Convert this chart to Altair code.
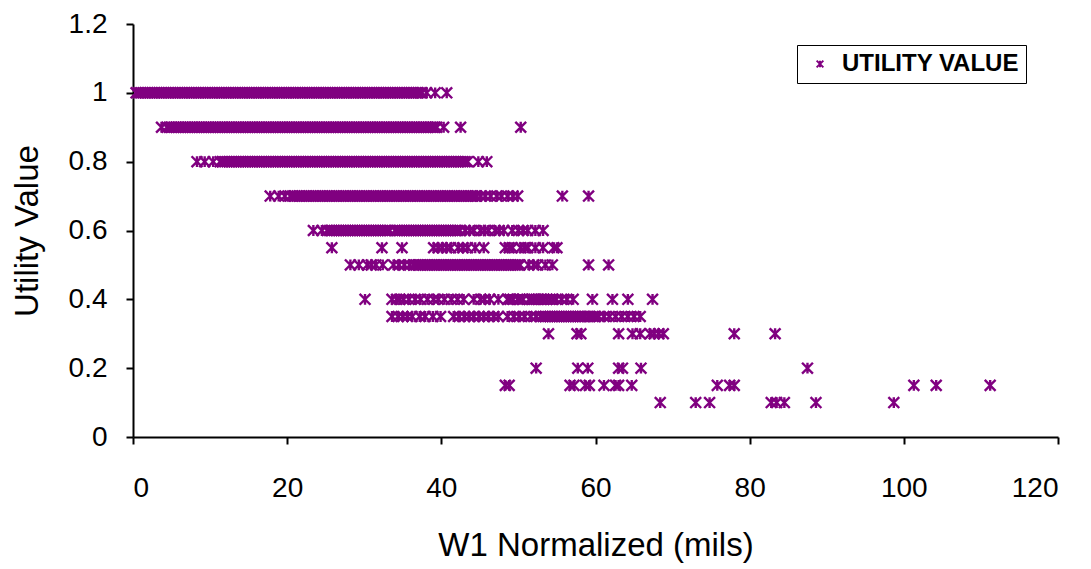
import altair as alt
import pandas as pd

PURPLE = "#800080"
FONT = "Liberation Sans"
SERIES = "UTILITY VALUE"

# Excel-style asterisk marker: an X with a vertical bar through it
ASTERISK = "M-1,-1L1,1M-1,1L1,-1M0,-1L0,1"

# W1 normalized (mils) of every record, grouped by its utility value
u_100 = [0.4, 0.7, 1.0, 1.3, 1.6, 1.9, 2.2, 2.5, 2.8, 3.1, 3.4, 3.7, 4.0, 4.3, 4.6, 4.9,
         5.2, 5.5, 5.8, 6.1, 6.4, 6.7, 7.0, 7.3, 7.6, 7.9, 8.2, 8.5, 8.8, 9.1, 9.4, 9.7,
         10.0, 10.3, 10.6, 10.9, 11.2, 11.5, 11.8, 12.1, 12.4, 12.7, 13.0, 13.3, 13.6,
         13.9, 14.2, 14.5, 14.8, 15.1, 15.4, 15.7, 16.0, 16.3, 16.6, 16.9, 17.2, 17.5,
         17.8, 18.1, 18.4, 18.7, 19.0, 19.3, 19.6, 19.9, 20.2, 20.5, 20.8, 21.1, 21.4,
         21.7, 22.0, 22.3, 22.6, 22.9, 23.2, 23.5, 23.8, 24.1, 24.4, 24.7, 25.0, 25.3,
         25.6, 25.9, 26.2, 26.5, 26.8, 27.1, 27.4, 27.7, 28.0, 28.3, 28.6, 28.9, 29.2,
         29.5, 29.8, 30.1, 30.4, 30.7, 31.0, 31.3, 31.6, 31.9, 32.2, 32.5, 32.8, 33.1,
         33.4, 33.7, 34.0, 34.3, 34.6, 34.9, 35.2, 35.5, 35.8, 36.1, 36.4, 36.7, 37.0,
         37.3, 37.5, 38.1, 39.2, 40.7]
u_090 = [3.7, 4.4, 4.7, 5.0, 5.3, 5.6, 5.9, 6.2, 6.5, 6.8, 7.1, 7.4, 7.7, 8.0, 8.3, 8.6,
         8.9, 9.2, 9.5, 9.8, 10.1, 10.4, 10.7, 11.0, 11.3, 11.6, 11.9, 12.2, 12.5, 12.8,
         13.1, 13.4, 13.7, 14.0, 14.3, 14.6, 14.9, 15.2, 15.5, 15.8, 16.1, 16.4, 16.7,
         17.0, 17.3, 17.6, 17.9, 18.2, 18.5, 18.8, 19.1, 19.4, 19.7, 20.0, 20.3, 20.6,
         20.9, 21.2, 21.5, 21.8, 22.1, 22.4, 22.7, 23.0, 23.3, 23.6, 23.9, 24.2, 24.5,
         24.8, 25.1, 25.4, 25.7, 26.0, 26.3, 26.6, 26.9, 27.2, 27.5, 27.8, 28.1, 28.4,
         28.7, 29.0, 29.3, 29.6, 29.9, 30.2, 30.5, 30.8, 31.1, 31.4, 31.7, 32.0, 32.3,
         32.6, 32.9, 33.2, 33.5, 33.8, 34.1, 34.4, 34.7, 35.0, 35.3, 35.6, 35.9, 36.2,
         36.5, 36.8, 37.1, 37.4, 37.7, 38.0, 38.3, 38.6, 38.9, 39.2, 39.4, 40.3, 42.5,
         50.3]
u_080 = [8.3, 9.3, 10.4, 11.3, 11.6, 11.9, 12.2, 12.5, 12.8, 13.1, 13.4, 13.7, 14.0,
         14.3, 14.6, 14.9, 15.2, 15.5, 15.8, 16.1, 16.4, 16.7, 17.0, 17.3, 17.6, 17.9,
         18.2, 18.5, 18.8, 19.1, 19.4, 19.7, 20.0, 20.3, 20.6, 20.9, 21.2, 21.5, 21.8,
         22.1, 22.4, 22.7, 23.0, 23.3, 23.6, 23.9, 24.2, 24.5, 24.8, 25.1, 25.4, 25.7,
         26.0, 26.3, 26.6, 26.9, 27.2, 27.5, 27.8, 28.1, 28.4, 28.7, 29.0, 29.3, 29.6,
         29.9, 30.2, 30.5, 30.8, 31.1, 31.4, 31.7, 32.0, 32.3, 32.6, 32.9, 33.2, 33.5,
         33.8, 34.1, 34.4, 34.7, 35.0, 35.3, 35.6, 35.9, 36.2, 36.5, 36.8, 37.1, 37.4,
         37.7, 38.0, 38.3, 38.6, 38.9, 39.2, 39.5, 39.8, 40.1, 40.4, 40.7, 41.0, 41.3,
         41.6, 41.9, 42.2, 42.5, 42.8, 43.1, 43.4, 44.8, 45.9]
u_070 = [17.8, 18.9, 19.7, 20.4, 20.7, 21.0, 21.3, 21.6, 21.9, 22.2, 22.5, 22.8, 23.1,
         23.4, 23.7, 24.0, 24.3, 24.6, 24.9, 25.2, 25.5, 25.8, 26.1, 26.4, 26.7, 27.0,
         27.3, 27.6, 27.9, 28.2, 28.5, 28.8, 29.1, 29.4, 29.7, 30.0, 30.3, 30.6, 30.9,
         31.2, 31.5, 31.8, 32.1, 32.4, 32.7, 33.0, 33.3, 33.6, 33.9, 34.2, 34.5, 34.8,
         35.1, 35.4, 35.7, 36.0, 36.3, 36.6, 36.9, 37.2, 37.5, 37.8, 38.1, 38.4, 38.7,
         39.0, 39.3, 39.6, 39.9, 40.2, 40.5, 40.8, 41.1, 41.4, 41.7, 42.0, 42.3, 42.6,
         42.9, 43.2, 43.5, 43.8, 44.1, 44.4, 44.6, 45.1, 45.7, 46.4, 47.2, 47.8, 48.6,
         49.3, 49.9, 55.7, 59.1]
u_060 = [23.4, 24.5, 25.2, 25.5, 25.8, 26.1, 26.4, 26.7, 27.0, 27.3, 27.6, 27.9, 28.2,
         28.5, 28.8, 29.1, 29.4, 29.7, 30.0, 30.3, 30.6, 30.9, 31.2, 31.5, 31.8, 32.1,
         32.4, 32.7, 33.0, 33.3, 34.0, 34.3, 34.6, 34.9, 35.2, 35.5, 35.8, 36.1, 36.4,
         36.7, 37.0, 37.3, 37.6, 37.9, 38.2, 38.5, 38.8, 39.1, 39.4, 39.7, 40.0, 40.3,
         40.6, 40.9, 41.2, 41.5, 41.8, 42.1, 42.4, 43.1, 43.7, 44.2, 45.1, 45.6, 46.1,
         47.0, 47.5, 48.1, 49.2, 50.0, 50.6, 51.2, 52.2, 53.2]
u_055 = [25.8, 32.3, 34.9, 39.0, 39.6, 40.1, 40.7, 41.2, 42.2, 42.8, 43.4, 44.4, 45.5,
         48.3, 48.8, 49.2, 50.3, 50.8, 51.2, 52.2, 53.2, 54.6, 55.0]
u_050 = [28.2, 29.3, 30.4, 30.9, 31.5, 32.4, 33.8, 34.5, 35.2, 35.9, 36.4, 36.7, 37.0,
         37.3, 37.6, 37.9, 38.2, 38.5, 38.8, 39.1, 39.4, 39.7, 40.0, 40.3, 40.6, 40.9,
         41.2, 41.5, 41.8, 42.1, 42.4, 42.7, 43.0, 43.3, 43.6, 43.9, 44.2, 44.5, 44.8,
         45.1, 45.4, 45.7, 46.0, 46.3, 46.6, 46.9, 47.2, 47.5, 47.8, 48.1, 48.4, 48.7,
         49.0, 49.3, 49.6, 49.9, 50.2, 51.3, 52.0, 52.5, 53.5, 54.4, 59.1, 61.7]
u_040 = [30.1, 33.6, 34.2, 34.6, 35.1, 35.8, 36.6, 37.3, 38.2, 39.0, 39.6, 40.4, 41.3,
         42.1, 42.9, 44.2, 45.1, 45.6, 46.3, 47.4, 48.6, 48.9, 49.3, 49.9, 50.2, 50.6,
         51.4, 51.7, 52.0, 52.3, 52.6, 53.0, 53.3, 53.7, 54.1, 54.5, 54.9, 55.6, 56.3,
         57.1, 59.6, 62.2, 64.2, 67.4]
u_035 = [33.6, 34.4, 35.0, 35.6, 36.2, 37.2, 37.9, 38.9, 39.9, 41.6, 42.3, 43.0, 43.6,
         44.2, 44.9, 45.5, 46.1, 46.8, 47.4, 48.6, 49.4, 50.1, 50.8, 51.6, 52.3, 52.9,
         53.2, 53.5, 53.8, 54.1, 54.4, 54.7, 55.0, 55.3, 55.6, 55.9, 56.2, 56.5, 56.8,
         57.1, 57.4, 57.7, 58.0, 58.3, 58.6, 59.0, 59.3, 59.7, 60.0, 60.4, 61.1, 61.8,
         62.6, 63.4, 64.2, 65.0, 65.8]
u_030 = [53.9, 57.6, 58.1, 63.0, 64.8, 65.8, 67.1, 67.6, 68.2, 68.8, 78.0, 83.3]
u_020 = [52.3, 57.7, 59.0, 63.0, 63.5, 65.9, 87.5]
u_015 = [48.3, 48.8, 56.7, 57.2, 58.7, 59.2, 61.1, 62.6, 63.0, 64.7, 75.8, 77.4, 78.0,
         101.3, 104.2, 111.2]
u_010 = [68.4, 73.0, 74.8, 82.8, 83.5, 84.5, 88.6, 98.7]

levels = [
    (1.0, u_100), (0.9, u_090), (0.8, u_080), (0.7, u_070), (0.6, u_060),
    (0.55, u_055), (0.5, u_050), (0.4, u_040), (0.35, u_035), (0.3, u_030),
    (0.2, u_020), (0.15, u_015), (0.1, u_010),
]

x_ticks = [0, 20, 40, 60, 80, 100, 120]
y_ticks = [0, 0.2, 0.4, 0.6, 0.8, 1.0, 1.2]

df = pd.DataFrame(
    [{"w1": x, "utility": u, "series": SERIES} for u, xs in levels for x in xs]
)

W, H = 925, 413

chart = (
    alt.Chart(df)
    .mark_point(shape=ASTERISK, size=118, strokeWidth=2.4, filled=False, opacity=1)
    .encode(
        x=alt.X(
            "w1:Q",
            scale=alt.Scale(domain=[0, 120], nice=False, zero=True),
            axis=alt.Axis(
                values=x_ticks,
                title="W1 Normalized (mils)",
                titleX=W / 2,
                titleY=118,
                titleBaseline="alphabetic",
                labelPadding=30,
            ),
        ),
        y=alt.Y(
            "utility:Q",
            scale=alt.Scale(domain=[0, 1.2], nice=False, zero=True),
            axis=alt.Axis(
                values=y_ticks,
                format="~g",
                title="Utility Value",
                titleX=-106,
                titleY=H / 2,
                titleAngle=270,
                titleAlign="center",
                titleBaseline="middle",
                labelPadding=19,
            ),
        ),
        color=alt.Color(
            "series:N",
            scale=alt.Scale(domain=[SERIES], range=[PURPLE]),
            legend=alt.Legend(
                title=None,
                orient="none",
                legendX=664,
                legendY=21,
                strokeColor="black",
                fillColor="white",
                padding=7,
                labelFont=FONT,
                labelFontSize=24,
                labelFontWeight="bold",
                labelColor="black",
                labelLimit=400,
                labelOffset=10,
                symbolType=ASTERISK,
                symbolSize=45,
                symbolStrokeWidth=2,
                symbolOffset=4,
            ),
        ),
    )
    .properties(
        width=W,
        height=H,
        autosize=alt.AutoSizeParams(type="none"),
        padding={"left": 133, "top": 24, "right": 33, "bottom": 132},
        background="white",
    )
    .configure_view(stroke=None)
    .configure_axis(
        grid=False,
        domainColor="black",
        domainWidth=2,
        tickColor="black",
        tickWidth=2,
        tickSize=7,
        labelFont=FONT,
        labelFontSize=28,
        labelColor="black",
        titleFont=FONT,
        titleFontSize=33,
        titleFontWeight="normal",
        titleColor="black",
    )
)

chart.save("out.html", embed_options={"renderer": "svg", "actions": False})
